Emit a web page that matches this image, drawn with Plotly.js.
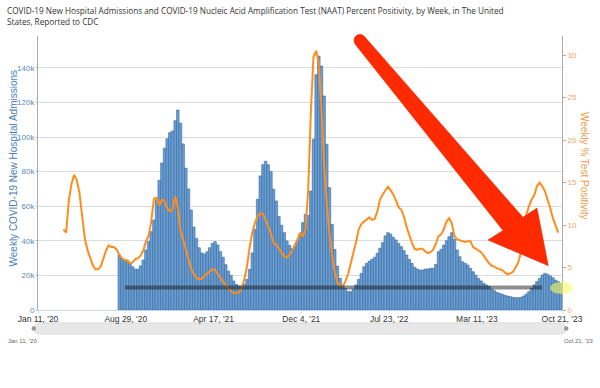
<!DOCTYPE html>
<html><head><meta charset="utf-8">
<script src="https://cdn.plot.ly/plotly-3.0.1.min.js"></script>
<style>html,body{margin:0;padding:0;background:#fff}</style>
</head><body><div id="chart" style="width:600px;height:388px"></div>
<script>
// ---- data ----
const barStart = '2020-08-12';
const admissions = [31800,29900,28900,28900,27000,25000,23600,23600,25500,28900,
34700,39500,45300,52000,63600,75000,85000,93500,99000,102500,
103500,109400,115600,108000,96000,82000,70000,57800,48000,41400,
36000,33000,32300,33700,36000,38500,39500,37600,33700,30500,
26200,22500,20000,16800,14800,13900,13600,14800,17700,23500,
33000,46600,64000,77500,84000,86000,84000,80000,69800,63000,
54000,49000,44700,39900,37400,35400,37000,39900,43700,50500,
55300,54700,68800,98700,136000,146800,141000,123700,95800,70700,
49500,35000,25400,18300,14500,12500,10600,10600,12000,14500,
17700,21200,25000,27000,28300,29300,30500,32800,35700,38900,
42800,44700,43900,42000,40500,38500,36600,34300,31800,29300,
27000,24700,23700,23100,23100,23700,23700,24100,24100,26400,
33700,35100,37500,40000,42400,44700,40900,34700,30800,27900,
27000,26000,24100,22100,20200,18300,16800,15400,14500,13500,
12000,11200,10200,9600,9100,8500,8100,7700,7300,7100,
7100,7300,8100,9200,10600,12500,14500,16400,18300,20200,
21200,20600,19700,18700,17300,16400,15400];
const lineStart = '2020-03-18';
const positivity = [9.5,9.1,12.8,14.8,15.9,15.3,13.8,11.2,8.5,7.1,
6.1,5.3,4.8,4.8,5.1,6.1,7.0,7.6,7.4,7.4,
7.1,6.5,6.1,5.9,5.8,5.5,5.6,6.0,6.1,6.4,
7.0,8.1,8.7,10.4,13.1,13.2,12.3,13.0,12.8,12.0,
11.6,11.8,13.4,12.0,9.4,8.2,7.0,6.0,4.9,4.2,
3.8,3.6,3.7,4.0,4.3,4.6,4.8,4.7,4.3,3.8,
3.3,2.9,2.6,2.2,2.0,2.0,2.1,2.6,3.6,5.1,
7.4,9.1,10.3,11.0,11.4,11.3,10.6,9.8,9.0,7.9,
7.7,7.2,6.7,6.3,6.2,6.5,7.0,7.6,8.3,9.1,
8.7,9.4,14.1,23.2,29.8,30.5,29.0,23.7,17.1,12.6,
8.9,6.4,4.5,3.2,2.9,2.8,3.4,4.2,5.4,6.6,
8.0,9.5,10.1,10.4,10.6,10.9,10.6,10.7,11.6,13.0,
13.6,14.0,14.5,14.1,13.6,12.9,12.1,11.8,11.0,9.8,
8.7,7.9,7.2,7.1,7.2,7.2,6.9,6.7,6.8,7.1,
7.8,8.7,8.9,9.5,10.4,10.8,10.2,8.7,8.3,8.2,
8.1,8.0,8.1,8.1,7.4,7.2,7.1,6.8,6.4,5.9,
5.5,5.2,5.1,4.9,4.8,4.7,4.4,4.2,4.3,4.5,
5.0,5.6,6.8,9.0,11.2,12.2,13.0,13.5,14.6,15.0,
14.6,14.0,13.1,12.0,10.8,10.0,9.1];
const xTickVals = ['2020-01-11','2020-08-29','2021-04-17','2021-12-04','2022-07-23','2023-03-11','2023-10-21'];
const xTickText = ["Jan 11, '20","Aug 29, '20","Apr 17, '21","Dec 4, '21","Jul 23, '22","Mar 11, '23","Oct 21, '23"];
const leftTickVals = [0,20000,40000,60000,80000,100000,120000,140000];
const leftTickText = ['0','20k','40k','60k','80k','100k','120k','140k'];
const rightTickVals = [0,5,10,15,20,25,30];
const titleLine1 = 'COVID-19 New Hospital Admissions and COVID-19 Nucleic Acid Amplification Test (NAAT) Percent Positivity, by Week, in The United';
const titleLine2 = 'States, Reported to CDC';
const leftTitle = 'Weekly COVID-19 New Hospital Admissions';
const rightTitle = 'Weekly % Test Positivity';

function weekly(start, n) {
  const out = []; const d0 = Date.parse(start + 'T00:00:00Z');
  for (let i = 0; i < n; i++) out.push(new Date(d0 + i * 7 * 864e5).toISOString().slice(0, 10));
  return out;
}

// pixel -> paper helpers (plot area 38..562 x, 36..310 y)
const L = 38, R = 38, T = 36, B = 78, W = 600, H = 388;
const PW = W - L - R, PH = H - T - B;
const X = p => (p - L) / PW;
const Y = p => (H - B - p) / PH;
function path(pts) { return 'M ' + pts.map(p => X(p[0]).toFixed(5) + ',' + Y(p[1]).toFixed(5)).join(' L ') + ' Z'; }

const arrowPts = [[355,44],[503,230.5],[488,240],[548.3,265.7],[537,208],[523,217.3],[364,36],[361,34.3],[357,35],[354.5,37.5],[354,41]];

function roundRect(x0, y0, x1, y1) {
  const r = (y1 - y0) / 2, pts = [];
  for (let k = 0; k <= 12; k++) { const a = -Math.PI/2 + Math.PI * k / 12; pts.push([x1 - r + r*Math.cos(a), (y0+y1)/2 + r*Math.sin(a)]); }
  for (let k = 0; k <= 12; k++) { const a = Math.PI/2 + Math.PI * k / 12; pts.push([x0 + r + r*Math.cos(a), (y0+y1)/2 + r*Math.sin(a)]); }
  return path(pts);
}

const traces = [
  { type: 'bar', x: weekly(barStart, admissions.length), y: admissions, yaxis: 'y',
    marker: { color: '#6e9ecf', line: { color: '#2d68a6', width: 0.6 } }, hoverinfo: 'none' },
  { type: 'scatter', mode: 'lines', x: weekly(lineStart, positivity.length), y: positivity, yaxis: 'y2',
    line: { color: '#ff8c1e', width: 2 }, hoverinfo: 'none' }
];

const titleFont = { family: 'Open Sans', size: 8.2, color: '#333' };
const layout = {
  width: W, height: H, margin: { l: L, r: R, t: T, b: B },
  paper_bgcolor: '#fff', plot_bgcolor: '#fff', showlegend: false, bargap: 0.05,
  font: { family: 'Liberation Sans, Arial, sans-serif', size: 9, color: '#333' },
  xaxis: { type: 'date', range: ['2020-01-11', '2023-10-21'], tickvals: xTickVals, ticktext: xTickText,
    showgrid: false, showline: true, linecolor: '#ccd6eb', ticks: 'outside', ticklen: 2, tickcolor: '#ccd6eb',
    ticklabelstandoff: -1, tickfont: { size: 8.5, color: '#333' }, fixedrange: true },
  yaxis: { range: [0, 158400], tickvals: leftTickVals, ticktext: leftTickText, showgrid: true, gridcolor: '#dcdcdc',
    showline: true, linecolor: '#aaa', ticks: 'outside', ticklen: 1, tickcolor: '#aaa',
    tickfont: { size: 8, color: '#5b87b8' }, zeroline: false },
  yaxis2: { overlaying: 'y', side: 'right', range: [0, 32.24], tickvals: rightTickVals, showgrid: false,
    showline: true, linecolor: '#aaa', ticks: 'outside', ticklen: 3, tickcolor: '#aaa',
    tickfont: { size: 8, color: '#f7a35c' }, zeroline: false },
  annotations: [
    { text: titleLine1, xref: 'paper', yref: 'paper', x: X(5), y: Y(10), xanchor: 'left', yanchor: 'middle', showarrow: false, font: titleFont },
    { text: titleLine2, xref: 'paper', yref: 'paper', x: X(5), y: Y(22), xanchor: 'left', yanchor: 'middle', showarrow: false, font: titleFont },
    { text: leftTitle, xref: 'paper', yref: 'paper', x: X(12.5), y: Y(168), textangle: -90, showarrow: false,
      font: { family: 'Liberation Sans, Arial', size: 10, color: '#4a7fb8' }, xanchor: 'center', yanchor: 'middle' },
    { text: rightTitle, xref: 'paper', yref: 'paper', x: X(585), y: Y(165), textangle: 90, showarrow: false,
      font: { family: 'Liberation Sans, Arial', size: 10, color: '#f39a4b' }, xanchor: 'center', yanchor: 'middle' },
    { text: "Jan 11, '20", xref: 'paper', yref: 'paper', x: X(22), y: Y(341), showarrow: false,
      font: { size: 6, color: '#666' }, xanchor: 'center', yanchor: 'middle' },
    { text: "Oct 21, '23", xref: 'paper', yref: 'paper', x: X(578), y: Y(341), showarrow: false,
      font: { size: 6, color: '#666' }, xanchor: 'center', yanchor: 'middle' }
  ],
  shapes: [
    { type: 'path', layer: 'below', xref: 'paper', yref: 'paper', path: roundRect(34, 323, 566, 334), fillcolor: '#e8e8e8', line: { color: '#d8d8d8', width: 1 } },
    { type: 'circle', layer: 'below', xref: 'paper', yref: 'paper', x0: X(31.5), x1: X(36), y0: Y(330.8), y1: Y(326.3), fillcolor: '#999', line: { width: 0 } },
    { type: 'circle', layer: 'below', xref: 'paper', yref: 'paper', x0: X(564), x1: X(568.5), y0: Y(330.8), y1: Y(326.3), fillcolor: '#999', line: { width: 0 } },
    { type: 'line', xref: 'paper', yref: 'paper', x0: X(125), x1: X(542), y0: Y(287.5), y1: Y(287.5), line: { color: 'rgba(30,30,30,0.5)', width: 4 } },
    { type: 'circle', xref: 'paper', yref: 'paper', x0: X(550), x1: X(573), y0: Y(294), y1: Y(282), fillcolor: 'rgba(250,250,100,0.6)', line: { width: 0 } },
    { type: 'path', xref: 'paper', yref: 'paper', path: path(arrowPts), fillcolor: '#ff2a00', line: { color: '#e02000', width: 0.5 } }
  ]
};

Plotly.newPlot('chart', traces, layout, { displayModeBar: false, staticPlot: true });
</script></body></html>
